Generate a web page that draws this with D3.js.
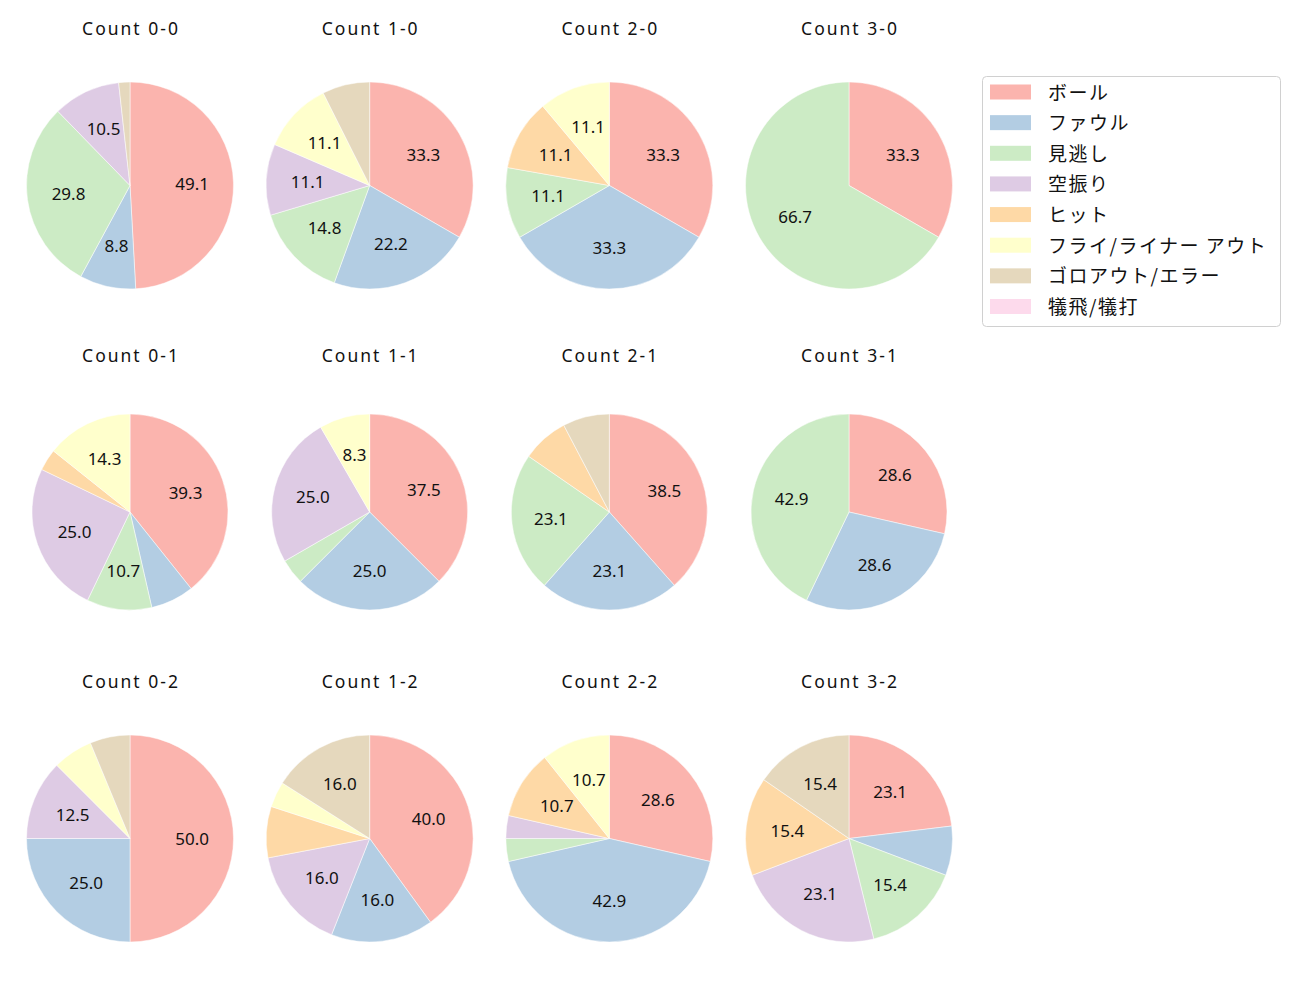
<!DOCTYPE html>
<html>
<head>
<meta charset="utf-8">
<script src="https://cdn.jsdelivr.net/npm/d3@7"></script>
<style>
  body { margin: 0; background: #fff; }
  text { font-family: "Noto Sans", "Noto Sans CJK JP", sans-serif; }
  .ltext { font-family: "Noto Sans CJK JP", sans-serif; }
</style>
</head>
<body>
<div id="chart"></div>
<script>
let categories = ["ボール", "ファウル", "見逃し", "空振り", "ヒット", "フライ/ライナー アウト", "ゴロアウト/エラー", "犠飛/犠打"];

let titles = [
    "Count 0-0", "Count 1-0", "Count 2-0", "Count 3-0",
    "Count 0-1", "Count 1-1", "Count 2-1", "Count 3-1",
    "Count 0-2", "Count 1-2", "Count 2-2", "Count 3-2"
];

// pitch counts per category
let count_0_0 = [28, 5, 17, 6, 0, 0, 1, 0];
let count_1_0 = [9, 6, 4, 3, 0, 3, 2, 0];
let count_2_0 = [3, 3, 1, 0, 1, 1, 0, 0];
let count_3_0 = [1, 0, 2, 0, 0, 0, 0, 0];
let count_0_1 = [11, 2, 3, 7, 1, 4, 0, 0];
let count_1_1 = [9, 6, 1, 6, 0, 2, 0, 0];
let count_2_1 = [5, 3, 3, 0, 1, 0, 1, 0];
let count_3_1 = [2, 2, 3, 0, 0, 0, 0, 0];
let count_0_2 = [8, 4, 0, 2, 0, 1, 1, 0];
let count_1_2 = [10, 4, 0, 4, 2, 1, 4, 0];
let count_2_2 = [8, 12, 1, 1, 3, 3, 0, 0];
let count_3_2 = [3, 1, 2, 3, 2, 0, 2, 0];

let all_counts = [
    count_0_0, count_1_0, count_2_0, count_3_0,
    count_0_1, count_1_1, count_2_1, count_3_1,
    count_0_2, count_1_2, count_2_2, count_3_2
];

let colors = ["#fbb4ae", "#b3cde3", "#ccebc5", "#decbe4", "#fed9a6", "#ffffcc", "#e5d8bd", "#fddaec"];

let chart_width = 1300;
let chart_height = 1000;

let svg = d3.select("#chart")
    .append("svg")
    .attr("width", chart_width)
    .attr("height", chart_height);

let xCenter = d3.scaleLinear().domain([0, 3]).range([130, 849]);
let yCenters = [185.5, 512, 838.5];
let radii = [103.5, 98, 103.5];

let color = d3.scaleOrdinal().domain(categories).range(colors);

let pie = d3.pie().sort(null).value(d => d);

let label_size = 17;

all_counts.forEach(function(counts, idx) {
    let col = idx % 4;
    let row = Math.floor(idx / 4);
    let cx = xCenter(col);
    let cy = yCenters[row];
    let r = radii[row];
    let total = d3.sum(counts);

    let g = svg.append("g").attr("transform", "translate(" + cx + "," + cy + ")");

    let arcs = pie(counts).filter(d => d.value > 0);
    let arc = d3.arc().innerRadius(0).outerRadius(r);
    let label_arc = d3.arc().innerRadius(r * 0.6).outerRadius(r * 0.6);

    g.selectAll("path")
        .data(arcs)
        .enter()
        .append("path")
        .attr("d", arc)
        .attr("fill", d => colors[d.index])
        .attr("stroke", "white")
        .attr("stroke-width", 0.5);

    // only slices big enough get a percentage
    g.selectAll(".pct")
        .data(arcs.filter(d => d.value / total * 100 > 8.1))
        .enter()
        .append("text")
        .attr("class", "pct")
        .attr("x", d => label_arc.centroid(d)[0])
        .attr("y", d => label_arc.centroid(d)[1] + label_size * 0.36)
        .attr("text-anchor", "middle")
        .attr("font-size", label_size + "px")
        .attr("fill", "#111")
        .text(d => (d.value / total * 100).toFixed(1));

    svg.append("text")
        .attr("x", cx + 1)
        .attr("y", cy - 150.5)
        .attr("text-anchor", "middle")
        .attr("font-size", "17.5px")
        .attr("letter-spacing", "2px")
        .attr("fill", "#111")
        .text(titles[idx]);
});

// legend
let legend = svg.append("g");
legend.append("rect")
    .attr("x", 982.5)
    .attr("y", 76.5)
    .attr("width", 298)
    .attr("height", 250)
    .attr("rx", 4)
    .attr("fill", "white")
    .attr("stroke", "#d0d0d0");

let yLegend = d3.scalePoint().domain(categories).range([92, 306.5]);

legend.selectAll(".swatch")
    .data(categories)
    .enter()
    .append("rect")
    .attr("class", "swatch")
    .attr("x", 990)
    .attr("y", d => yLegend(d) - 7.5)
    .attr("width", 41)
    .attr("height", 15)
    .attr("fill", d => color(d));

legend.selectAll(".ltext")
    .data(categories)
    .enter()
    .append("text")
    .attr("class", "ltext")
    .attr("x", 1048)
    .attr("y", d => yLegend(d) + 7.5)
    .attr("font-size", "19px")
    .attr("letter-spacing", "1.5px")
    .attr("fill", "#111")
    .text(d => d);
</script>
</body>
</html>
